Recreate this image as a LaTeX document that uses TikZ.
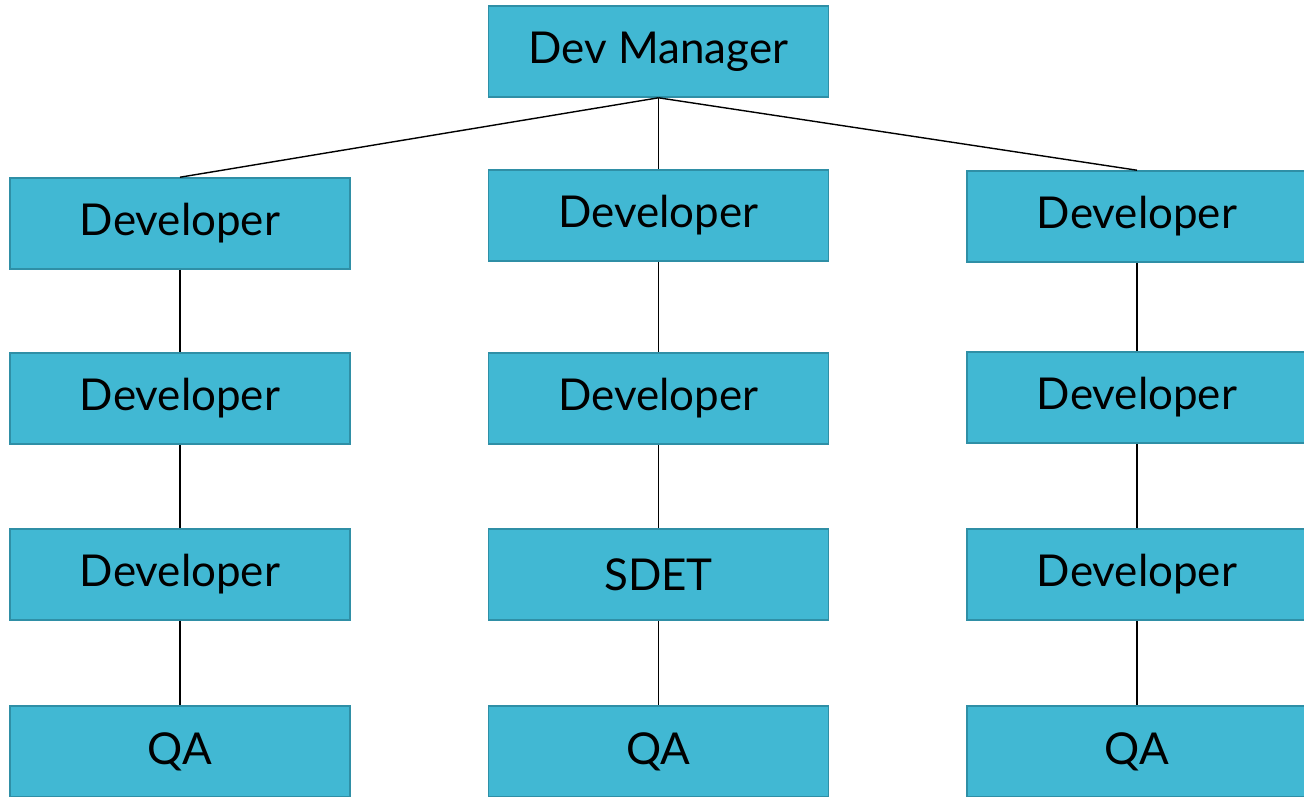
\documentclass[tikz,border=0pt]{standalone}
\usepackage{fontspec}
\setmainfont{Lato}
\usetikzlibrary{positioning}
\definecolor{boxfill}{HTML}{41B8D3}
\definecolor{boxline}{HTML}{2F8FA6}
\tikzset{rolebox/.style={draw=boxline,line width=0.9pt,fill=boxfill,minimum width=6.8cm,minimum height=1.82cm,inner sep=0pt,font=\fontsize{25}{30}\selectfont}}
\tikzset{link/.style={black,line width=0.8pt}}

\begin{document}
\begin{tikzpicture}[x=0.02cm,y=-0.02cm]
	\useasboundingbox (0,0) rectangle (1304,796);
	\clip (0,0) rectangle (1304,796);
	% column centres and row heights
	\coordinate (mgr) at (658.5,51.5);
	\coordinate (l1) at (180,223.5);
	\coordinate (m1) at (658.5,215.5);
	\coordinate (r1) at (1137,216.5);

%	\draw[help lines] (0,0) grid[step=100] (1304,796); %grid
	\node [rolebox] (devmgr) at (mgr) {Dev Manager};

	\node [rolebox] (ldev1) at (l1) {Developer};
	\node [rolebox] (ldev2) at (180,398.5) {Developer};
	\node [rolebox] (ldev3) at (180,574.5) {Developer};
	\node [rolebox] (lqa) at (180,751.5) {QA};

	\node [rolebox] (mdev1) at (m1) {Developer};
	\node [rolebox] (mdev2) at (658.5,398.5) {Developer};
	\node [rolebox] (msdet) at (658.5,574.5) {SDET};
	\node [rolebox] (mqa) at (658.5,751.5) {QA};

	\node [rolebox] (rdev1) at (r1) {Developer};
	\node [rolebox] (rdev2) at (1137,397.5) {Developer};
	\node [rolebox] (rdev3) at (1137,574.5) {Developer};
	\node [rolebox] (rqa) at (1137,751.5) {QA};

	\draw [link] (devmgr.south) -- (ldev1.north);
	\draw [link] (devmgr.south) -- (mdev1.north);
	\draw [link] (devmgr.south) -- (rdev1.north);

	\draw [link] (ldev1) -- (ldev2) -- (ldev3) -- (lqa);
	\draw [link] (mdev1) -- (mdev2) -- (msdet) -- (mqa);
	\draw [link] (rdev1) -- (rdev2) -- (rdev3) -- (rqa);

\end{tikzpicture}
\end{document}
